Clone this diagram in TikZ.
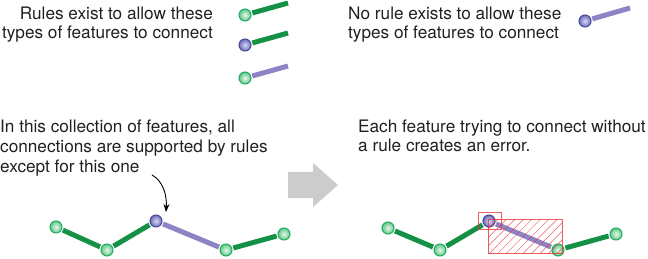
\documentclass[tikz,border=0pt]{standalone}
\usepackage{fontspec}
\setmainfont{TeX Gyre Heros}
\usetikzlibrary{positioning,arrows.meta,patterns.meta,backgrounds}

\definecolor{linkgreen}{RGB}{20,145,68}
\definecolor{ringgreen}{RGB}{30,170,95}
\definecolor{coregreen}{RGB}{232,248,236}
\definecolor{shadegreen}{RGB}{95,200,135}
\definecolor{linkpurple}{RGB}{140,132,196}
\definecolor{ringpurple}{RGB}{70,70,150}
\definecolor{corepurple}{RGB}{215,215,245}
\definecolor{shadepurple}{RGB}{110,110,190}
\definecolor{errred}{RGB}{236,50,56}
\definecolor{flowgray}{RGB}{204,204,204}
\definecolor{inktext}{RGB}{35,31,32}

\tikzset{
  ball/.style={circle, inner sep=0pt, minimum size=12pt, outer sep=1.5pt, line width=1pt,
    preaction={draw=white, line width=3pt}},
  greenball/.style={ball, draw=ringgreen, inner color=coregreen, outer color=shadegreen},
  purpleball/.style={ball, draw=ringpurple, inner color=corepurple, outer color=shadepurple},
  greenlink/.style={draw=linkgreen, line width=5pt},
  purplelink/.style={draw=linkpurple, line width=5pt},
  note/.style={inner sep=0pt, text=inktext, font=\fontsize{17.2}{19.8}\selectfont},
  errbox/.style={draw=errred, draw opacity=0.8, line width=0.6pt}
}

\begin{document}
\begin{tikzpicture}[x=1pt, y=-1pt]
    \useasboundingbox (0,0) rectangle (648,259);

    % Legend: allowed connections (top left)
    \node[note, anchor=base east, align=right] (rulesok) at (213,39) {Rules exist to allow these\\types of features to connect};
    \node[greenball] (okA) at (245,15) {};
    \node[purpleball] (okB) at (245,45) {};
    \node[greenball] (okC) at (245,78) {};
    \coordinate (okAend) at (288,3);
    \coordinate (okBend) at (288,33);
    \coordinate (okCend) at (288,66);

    % Legend: connection without a rule (top right)
    \node[note, anchor=base west, align=left] (norule) at (348,39) {No rule exists to allow these\\types of features to connect};
    \node[purpleball] (badA) at (585,21) {};
    \coordinate (badAend) at (630,8);

    % Collection of features (bottom left)
    \node[note, anchor=base west, align=left] (chainnote) at (0,172) {In this collection of features, all\\connections are supported by rules\\except for this one};
    \node[greenball] (n1) at (56,227) {};
    \node[greenball] (n2) at (107,250) {};
    \node[purpleball] (n3) at (156,221) {};
    \node[greenball] (n4) at (226,250) {};
    \node[greenball] (n5) at (284,234) {};
    \coordinate (notetail) at (152,175);
    \coordinate (notetip) at (166,212);
    \draw[-{Stealth[length=8pt,width=6pt]}, line width=0.9pt, draw=black] (notetail) .. controls (163,181) and (167,195) .. (notetip);

    % Flow arrow
    \fill[flowgray] (288,172) -- (313,172) -- (313,163) -- (338,185) -- (313,207) -- (313,198) -- (288,198) -- cycle;

    % Same collection with the error (bottom right)
    \node[note, anchor=base west, align=left] (errnote) at (358,152) {Each feature trying to connect without\\a rule creates an error.};
    \node[greenball] (m1) at (388,228) {};
    \node[greenball] (m2) at (440,250) {};
    \node[purpleball] (m3) at (489,221) {};
    \node[greenball] (m4) at (558,250) {};
    \node[greenball] (m5) at (616,234) {};

    \begin{scope}[on background layer]
        \draw[greenlink] (okA) -- (okAend);
        \draw[greenlink] (okB) -- (okBend);
        \draw[purplelink] (okC) -- (okCend);
        \draw[purplelink] (badA) -- (badAend);
        \draw[greenlink] (n1) -- (n2);
        \draw[greenlink] (n2) -- (n3);
        \draw[purplelink] (n3) -- (n4);
        \draw[greenlink] (n4) -- (n5);
        \draw[greenlink] (m1) -- (m2);
        \draw[greenlink] (m2) -- (m3);
        \draw[purplelink] (m3) -- (m4);
        \draw[greenlink] (m4) -- (m5);
    \end{scope}

    % Error markers
    \draw[errbox] (478,212) rectangle (501,229);
    \draw[errbox, pattern={Lines[angle=45, distance=6pt, line width=0.5pt]}, pattern color=errred] (488,219) rectangle (562,253);
\end{tikzpicture}
\end{document}
